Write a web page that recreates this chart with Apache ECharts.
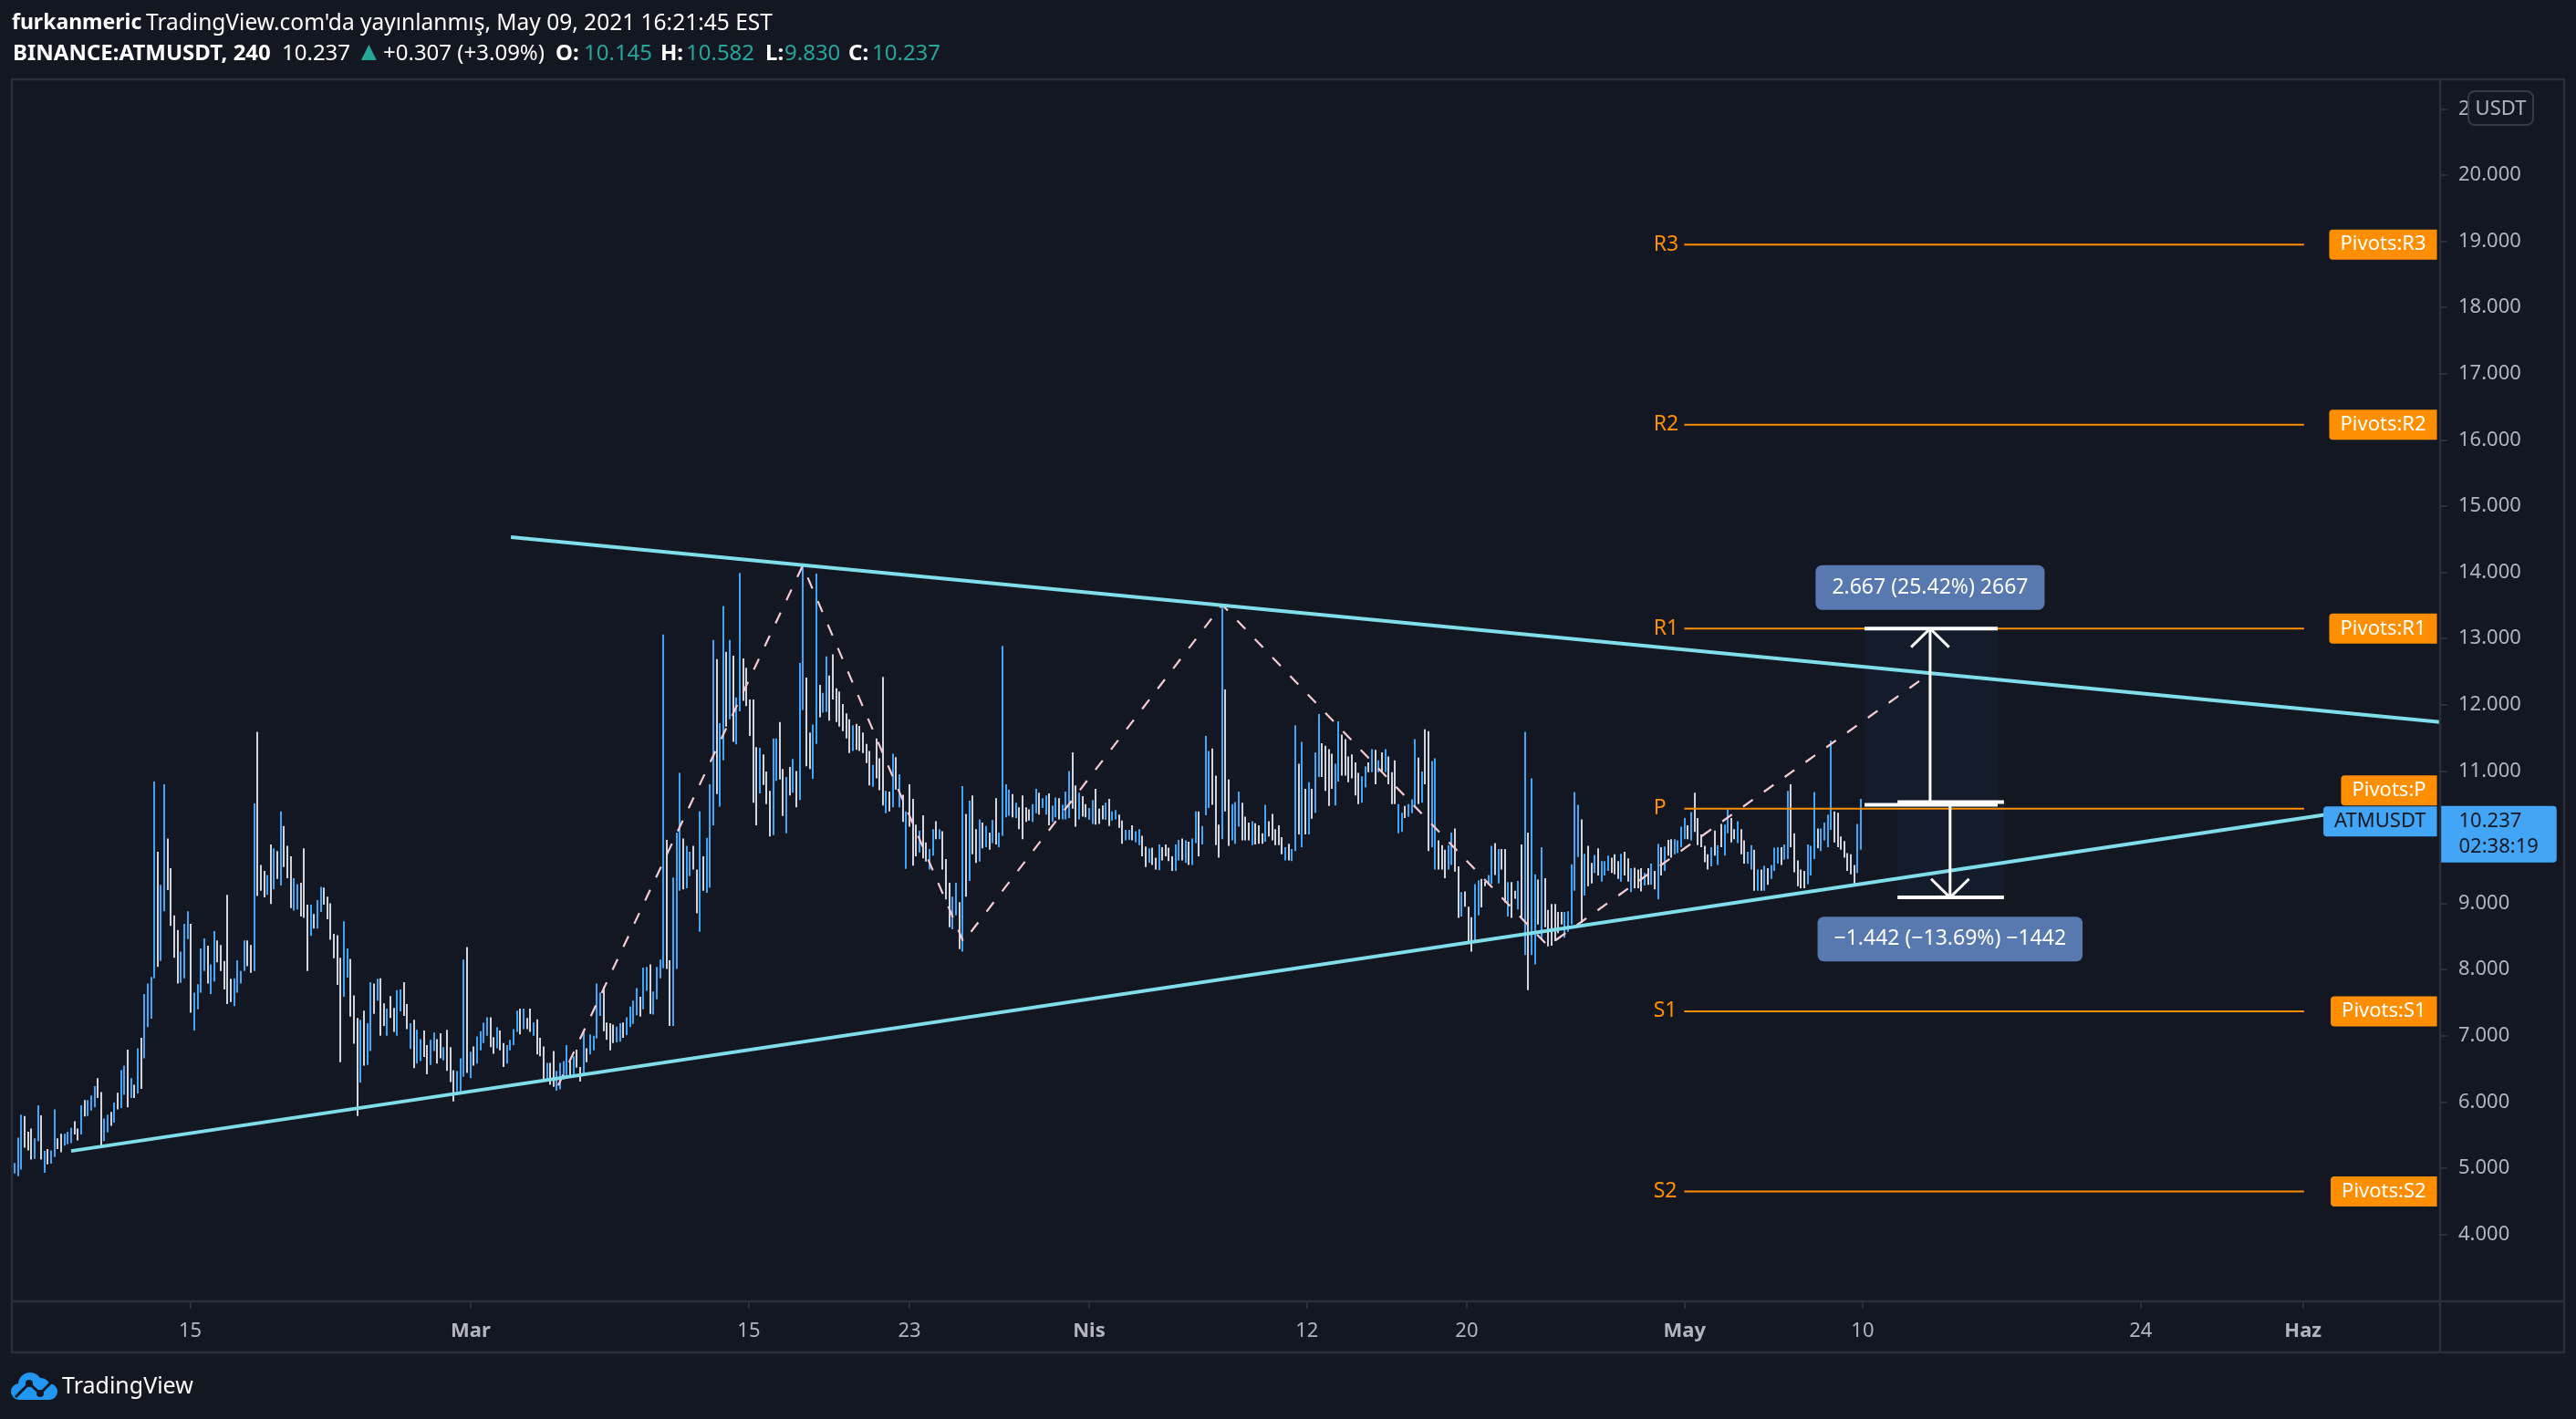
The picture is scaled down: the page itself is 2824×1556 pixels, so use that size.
<!DOCTYPE html>
<html>
<head>
<meta charset="utf-8">
<title>BINANCE:ATMUSDT, 240</title>
<style>
  html, body { margin: 0; padding: 0; background: #131722; }
  #main { width: 2824px; height: 1556px; }
</style>
<script src="https://cdn.jsdelivr.net/npm/echarts@6/dist/echarts.min.js"></script>
</head>
<body>
<div id="main"></div>
<script>
// bars are numbered 1..556, one per 4 hours
const highs = [
  5.08,5.46,5.81,5.79,5.55,5.60,5.45,5.95,5.80,5.26,5.29,5.27,5.89,5.45,5.52,5.52,5.55,5.61,5.71,5.60,
  5.95,6.03,6.03,6.10,6.24,6.36,6.15,5.75,5.81,5.85,5.99,6.14,6.48,6.55,6.79,6.36,6.26,6.81,6.97,7.63,
  7.79,7.89,10.84,9.78,9.28,10.80,9.98,9.53,8.82,8.60,8.27,8.69,8.88,8.69,7.65,7.78,8.32,8.47,8.36,8.08,
  8.58,8.44,8.37,8.13,9.13,7.86,7.87,8.14,7.98,8.44,8.44,8.37,10.51,11.59,9.58,9.49,9.43,9.89,9.83,9.79,
  10.39,10.17,9.87,9.71,9.38,9.29,9.31,9.83,8.98,8.98,8.84,9.05,9.25,9.24,9.10,9.00,8.54,8.52,8.18,8.73,
  8.32,8.16,7.61,7.27,7.24,7.38,7.19,7.81,7.79,7.86,7.87,7.49,7.41,7.60,7.42,7.69,7.70,7.81,7.48,7.19,
  7.24,7.09,6.95,7.08,6.86,6.94,7.05,6.95,7.04,6.83,7.09,6.83,6.48,6.47,6.66,8.15,8.34,6.76,6.84,6.99,
  7.07,7.20,7.28,7.28,6.98,7.13,7.08,6.89,6.86,6.94,7.10,7.38,7.41,7.41,7.27,7.41,7.20,7.25,6.97,6.84,
  6.59,6.59,6.77,6.47,6.59,6.62,6.86,6.61,6.69,6.79,6.53,7.08,6.81,7.02,7.00,7.79,7.65,7.74,7.20,7.19,
  7.17,7.14,7.19,7.20,7.28,7.44,7.53,7.72,7.59,8.03,8.04,8.08,7.67,8.04,8.15,13.06,9.96,8.14,9.39,10.07,
  10.97,9.98,9.87,9.78,9.87,9.51,10.39,9.71,9.99,10.80,12.98,12.69,11.72,13.49,12.80,12.98,12.74,12.11,13.99,12.70,
  12.56,12.08,12.08,11.36,11.35,11.25,10.99,10.70,11.49,11.49,11.74,11.03,10.91,11.06,11.18,11.00,12.63,14.12,12.41,11.58,
  11.70,13.98,12.30,12.18,12.73,12.44,12.76,12.25,12.20,12.01,11.87,11.78,11.69,11.71,11.68,11.58,11.41,11.30,11.09,11.49,
  11.19,12.42,10.70,10.69,11.26,11.21,10.95,10.64,10.39,10.80,10.58,10.19,10.10,10.33,9.92,9.82,10.12,10.24,10.12,10.09,
  9.67,9.31,9.10,9.31,9.02,10.77,10.35,10.55,10.63,10.12,10.27,10.22,10.17,10.07,10.26,10.59,10.07,12.89,10.80,10.72,
  10.65,10.52,10.45,10.63,10.45,10.42,10.50,10.73,10.67,10.59,10.63,10.66,10.48,10.60,10.59,10.49,10.69,11.00,11.28,10.78,
  10.67,10.62,10.50,10.44,10.56,10.73,10.43,10.48,10.52,10.58,10.39,10.41,10.34,10.25,10.11,10.11,10.18,10.09,10.12,10.02,
  9.86,9.83,9.84,9.69,9.89,9.85,9.89,9.84,9.71,9.89,9.96,9.98,9.95,9.93,9.98,10.39,10.39,10.17,11.53,11.30,
  11.34,10.93,10.19,13.50,12.23,10.87,10.50,10.53,10.69,10.52,10.31,10.22,10.24,10.21,10.18,10.06,10.49,10.24,10.35,10.12,
  10.18,10.00,9.85,9.90,9.82,11.69,11.11,11.44,10.73,10.83,10.73,11.28,11.86,11.42,11.38,11.33,11.26,11.11,11.75,11.55,
  11.48,11.22,11.25,11.13,10.97,10.92,11.07,11.13,11.33,11.32,11.16,11.28,11.33,11.22,10.98,11.16,10.50,10.37,10.47,10.50,
  10.57,11.48,11.20,10.99,11.63,11.60,11.15,11.19,9.95,9.88,9.81,9.88,10.07,10.13,9.56,9.17,9.18,8.95,8.79,9.29,
  9.35,9.37,9.33,9.43,9.87,9.91,9.82,9.82,9.82,9.32,9.32,9.19,9.34,9.89,11.59,10.07,10.89,9.44,9.36,9.85,
  9.38,8.90,8.99,8.99,8.87,8.87,8.87,8.88,9.59,10.68,10.49,10.27,9.75,9.87,9.61,9.73,9.83,9.64,9.64,9.72,
  9.69,9.74,9.64,9.75,9.78,9.68,9.53,9.54,9.51,9.53,9.46,9.53,9.60,9.49,9.90,9.85,9.86,9.96,9.97,9.97,
  9.95,10.16,10.29,10.18,10.38,10.67,10.29,10.04,9.87,9.74,9.85,10.10,9.88,10.20,10.19,10.42,10.29,10.12,10.24,10.12,
  9.95,9.78,9.88,9.81,9.51,9.51,9.57,9.53,9.58,9.84,9.85,9.85,9.89,10.70,10.80,10.06,9.65,9.51,9.49,9.89,
  9.87,10.68,10.13,10.13,10.22,10.34,11.46,10.39,10.37,10.01,9.94,9.76,9.74,9.58,10.20,10.58
];
const lows = [
  4.92,4.88,4.98,5.31,5.27,5.13,5.14,5.41,5.13,4.93,5.06,5.07,5.17,5.29,5.24,5.34,5.36,5.38,5.51,5.42,
  5.51,5.78,5.79,5.87,5.92,6.06,5.34,5.41,5.54,5.64,5.69,5.89,5.91,6.11,5.92,6.06,6.06,6.13,6.20,6.66,
  7.13,7.26,7.87,8.04,8.13,8.88,9.20,8.66,8.18,7.79,7.80,7.87,8.46,7.35,7.08,7.40,7.65,7.98,7.79,7.63,
  7.82,8.11,7.98,7.70,7.48,7.51,7.45,7.65,7.79,7.98,8.05,7.95,7.98,9.11,9.19,9.09,9.13,8.99,9.21,9.37,
  9.27,9.55,9.38,8.93,8.89,8.91,8.80,8.78,7.98,8.51,8.62,8.62,8.87,8.98,8.76,8.45,8.17,7.77,6.60,7.59,
  7.88,7.29,6.88,5.79,6.29,6.55,6.56,6.77,7.33,7.53,7.00,7.15,7.00,7.27,7.06,7.00,7.37,7.30,7.10,6.80,
  6.51,6.58,6.62,6.68,6.42,6.56,6.77,6.58,6.66,6.63,6.47,6.30,6.01,6.16,6.16,6.38,6.44,6.36,6.55,6.58,
  6.78,6.89,7.00,6.83,6.73,6.81,6.78,6.53,6.58,6.78,6.86,7.06,7.02,7.10,7.10,7.06,7.00,6.72,6.69,6.34,
  6.34,6.26,6.23,6.17,6.19,6.34,6.36,6.39,6.42,6.52,6.31,6.39,6.60,6.72,6.78,6.96,7.30,7.07,6.94,6.78,
  6.89,6.90,6.91,6.97,7.01,7.13,7.18,7.31,7.29,7.40,7.68,7.33,7.32,7.55,7.87,8.02,8.01,7.15,7.15,8.01,
  9.19,9.21,9.23,9.41,9.51,8.85,8.57,9.19,9.16,9.24,10.18,10.65,10.46,11.16,11.67,11.78,11.44,11.40,11.90,12.06,
  11.98,11.53,10.52,10.18,10.66,10.79,10.50,10.01,10.03,10.85,10.87,10.32,10.06,10.63,10.67,10.45,10.56,11.92,11.07,11.03,
  10.88,11.41,11.81,11.88,11.89,11.76,12.08,11.74,11.67,11.60,11.49,11.27,11.30,11.32,11.30,11.27,11.12,10.78,10.76,10.89,
  10.71,10.48,10.36,10.39,10.45,10.72,10.45,10.23,9.52,10.16,9.57,9.71,9.77,9.68,9.63,9.51,9.72,9.97,9.97,9.51,
  9.06,8.64,8.61,8.82,8.31,8.27,9.10,9.34,9.74,9.61,9.63,9.83,9.85,9.81,9.91,9.89,9.85,10.02,10.30,10.32,
  10.30,10.29,10.12,9.97,10.23,10.25,10.23,10.36,10.34,10.44,10.34,10.18,10.23,10.30,10.27,10.27,10.27,10.29,10.43,10.16,
  10.27,10.31,10.30,10.26,10.20,10.19,10.20,10.27,10.26,10.17,10.25,10.27,10.14,9.90,9.95,9.96,9.95,9.92,9.88,9.71,
  9.55,9.61,9.58,9.51,9.50,9.65,9.71,9.64,9.49,9.49,9.65,9.65,9.61,9.58,9.58,9.91,9.71,9.89,10.33,10.44,
  10.49,9.88,9.69,9.97,10.39,9.87,9.95,9.90,10.16,9.95,9.95,9.95,9.88,9.89,9.90,9.90,9.93,10.01,9.95,9.88,
  9.88,9.74,9.65,9.65,9.64,9.79,10.04,9.85,10.04,10.04,10.28,10.37,10.91,10.91,10.70,10.47,10.73,10.48,10.84,10.93,
  10.93,10.83,10.89,10.63,10.50,10.52,10.75,10.98,10.98,10.80,10.98,10.98,10.98,10.80,10.50,10.50,10.06,10.08,10.29,10.31,
  10.36,10.45,10.50,10.52,10.80,9.79,9.85,9.51,9.51,9.51,9.38,9.51,9.58,9.48,8.78,8.80,8.95,8.43,8.27,8.41,
  8.82,8.94,9.26,9.28,9.29,9.43,9.30,9.51,9.01,8.80,8.78,9.07,8.91,8.78,8.22,7.69,8.22,8.08,8.68,8.45,
  8.64,8.35,8.36,8.43,8.55,8.68,8.48,8.57,8.68,9.19,9.70,8.71,9.12,9.26,9.30,9.46,9.42,9.33,9.42,9.49,
  9.46,9.44,9.37,9.33,9.42,9.33,9.17,9.23,9.23,9.18,9.27,9.28,9.28,9.21,9.06,9.42,9.49,9.72,9.69,9.74,
  9.76,9.85,9.97,9.97,9.95,10.08,9.88,9.85,9.62,9.51,9.56,9.72,9.58,9.85,9.72,10.06,9.92,9.97,9.91,9.74,
  9.60,9.60,9.51,9.19,9.19,9.19,9.19,9.28,9.37,9.49,9.60,9.58,9.66,9.67,9.85,9.47,9.26,9.23,9.23,9.29,
  9.42,9.67,9.83,9.79,9.95,9.85,10.11,9.92,9.85,9.81,9.69,9.49,9.44,9.30,9.46,9.81
];
// b = blue (rising) bar, w = grey (falling) bar
const barDirections = [
  'bbbwwwbbwb','wbbwwbbbww','bwbbbwwbbw','bwbbwbwbwb','bbbwbbwwww','bbbwbbbbwb','bwwwwwbbbb','wwbwwwbwbw',
  'bwwwbbwwwb','wbbwwwwwwb','bwwwbwbbwb','wwbwwbbwwb','wbbwwbbwwb','wwwbbbwbwb','bbbwwbwwbb','bbwbwwbwww',
  'bwwbbbbwbw','wbwbbbbwww','wbbwbbbbwb','bwbbbbwwbb','bwbbwwbwbb','bwbbwbwbbw','wwwwbwwwbb','wwbwbwbbww',
  'bbwbbwwwww','wwbwwwwwbw','wwbwbwbwbw','wwbwwbbwbw','wwbbwbwbww','bwbwbwbbbb','wbwwwwbbwb','bwbbwbbbww',
  'bwwbbwwwbw','bbwwbbwbbw','wbwwbwwwwb','bwbwbbwbbb','wwwbwwbbbw','wwbwwwbwww','wwbwbbwbwb','wbbwwwwbbw',
  'wwwwwbbwbw','bwbwwwbbwb','bbwbwwbbww','wbbwwbwwwb','bwwbbwbwwb','wwbwbwbbwb','wwwwwwbbbb','bwbwwbwbbb',
  'wwwbwwbwww','bwbwbwbwwb','bbbwbwwwww','bwbwbbwwbw','wbbwbwbwbb','bwbbwwwwwb','bbwbbbbwww','wwwwbb'
].join('');

const xTickBars = [53.8, 138.1, 221.7, 270, 324, 389.5, 437.5, 503, 556.5, 640.1, 688.9];
const xTickLabels = ['15', 'Mar', '15', '23', 'Nis', '12', '20', 'May', '10', '24', 'Haz'];
const yTicks = [4, 5, 6, 7, 8, 9, 10, 11, 12, 13, 14, 15, 16, 17, 18, 19, 20, 21];

const pivotNames = ['R3', 'R2', 'R1', 'P', 'S1', 'S2'];
const pivotPrices = [18.95, 16.23, 13.15, 10.43, 7.37, 4.65];

const trendUpper = [[150.2, 14.53], [730.1, 11.74]];
const trendLower = [[18, 5.26], [695.8, 10.34]];
const zigzag = [[164.4, 6.25], [237.9, 14.1], [286.2, 8.42], [364, 13.51], [461.9, 8.36], [577, 12.48]];

const lastPrice = 10.237;

const BG = '#131722';
const LINE = '#2a2e39';
const BLUE = '#42a5f5';
const GREY = '#d1d4dc';
const ORANGE = '#ff8f00';
const CYAN = '#80deea';
const TEAL = '#26a69a';
const TAG_BLUE = '#5879af';
const FONT = '"Noto Sans", sans-serif';

// header pieces: left edge, top, text, bold, colour, size
const header = [
  [13, 14, 'furkanmeric', true, '#fff', 23],
  [160, 14, "TradingView.com'da yayınlanmış, May 09, 2021 16:21:45 EST", false, '#fff', 24.5],
  [14, 47, 'BINANCE:ATMUSDT, 240', true, '#fff', 24],
  [309, 47, '10.237', false, '#fff', 24],
  [390, 43, '▲', false, TEAL, 29],
  [420, 47, '+0.307 (+3.09%)', false, '#fff', 24],
  [609, 47, 'O:', true, '#fff', 24],
  [640, 47, '10.145', false, TEAL, 24],
  [724, 47, 'H:', true, '#fff', 24],
  [752, 47, '10.582', false, TEAL, 24],
  [839, 47, 'L:', true, '#fff', 24],
  [860, 47, '9.830', false, TEAL, 24],
  [930, 47, 'C:', true, '#fff', 24],
  [956, 47, '10.237', false, TEAL, 24]
];

const bars = highs.map(function (h, i) {
  return [i + 1, lows[i], h];
});

// every bar is one solid 2px stroke from low to high, drawn crisp on whole pixels
function renderBar(params, api) {
  const i = api.value(0);
  const bottom = api.coord([i, api.value(1)]);
  const top = api.coord([i, api.value(2)]);
  return {
    type: 'rect',
    shape: { x: Math.round(bottom[0] - 1), y: top[1], width: 2, height: bottom[1] - top[1] },
    style: { fill: barDirections[params.dataIndex] === 'b' ? BLUE : GREY }
  };
}

function line(name, points, width, color, z, dash) {
  return {
    name: name, type: 'line', data: points, symbol: 'none', z: z, clip: false,
    silent: true, animation: false,
    lineStyle: { width: width, color: color, type: dash || 'solid', cap: 'butt' }
  };
}

function labels(name, items, labelOpt, z) {
  return {
    name: name, type: 'scatter', data: items, symbolSize: 1, z: z, clip: false,
    silent: true, animation: false,
    itemStyle: { color: 'transparent', opacity: 1 },
    label: Object.assign({ show: true, formatter: '{b}', fontFamily: FONT }, labelOpt)
  };
}

const series = [
  {
    name: 'ATMUSDT', type: 'custom', data: bars, z: 2, renderItem: renderBar,
    encode: { x: 0, y: [1, 2] }, progressive: 0, silent: true, animation: false
  },
  line('trend upper', trendUpper, 4, CYAN, 6),
  line('trend lower', trendLower, 4, CYAN, 6),
  line('zigzag', zigzag, 2.2, '#f6ccd2', 5, [13, 15])
];

pivotPrices.forEach(function (p, i) {
  series.push(line('pivot ' + pivotNames[i], [[502.9, p], [689.2, p]], 2, ORANGE, 4));
});
series.push(labels('pivot names', pivotNames.map(function (n, i) {
  return { name: n, value: [493.5, pivotPrices[i]] };
}), { position: 'right', distance: 0, color: ORANGE, fontSize: 23, padding: [10, 0, 0, 0] }, 4));
series.push(labels('pivot tags', pivotNames.map(function (n, i) {
  const item = { name: 'Pivots:' + n, value: [729.3, pivotPrices[i]] };
  // P sits on the symbol tag, so it is pushed up
  if (n === 'P') item.label = { offset: [0, -20] };
  return item;
}), {
  position: 'left', distance: 0, color: '#fff', fontSize: 22, backgroundColor: ORANGE,
  padding: [8, 12, 3, 12], borderRadius: [4, 0, 0, 4]
}, 20));

// measure tool, up and down from the same level
const measureUp = { left: 557.1, right: 597.1, arrow: 576.8, from: 10.49, to: 13.15 };
const measureDown = { left: 567, right: 599, arrow: 582.8, from: 10.53, to: 9.09 };
[measureUp, measureDown].forEach(function (m, k) {
  const dir = m.to > m.from ? 1 : -1;
  series.push({
    name: 'measure box ' + k, type: 'line', data: [], z: 3, silent: true,
    markArea: {
      silent: true, itemStyle: { color: 'rgba(30,80,140,0.1)' },
      data: [[{ coord: [m.left, m.from] }, { coord: [m.right, m.to] }]]
    }
  });
  series.push(line('measure from ' + k, [[m.left, m.from], [m.right, m.from]], 4, '#fff', 8));
  series.push(line('measure to ' + k, [[m.left, m.to], [m.right, m.to]], 4, '#fff', 8));
  series.push(line('measure shaft ' + k, [[m.arrow, m.from], [m.arrow, m.to]], 3, '#fff', 8));
  series.push(line('measure head ' + k, [
    [m.arrow - 5.7, m.to - dir * 0.28], [m.arrow, m.to], [m.arrow + 5.7, m.to - dir * 0.28]
  ], 3, '#fff', 8));
});
series.push(labels('measure up label', [{ name: '2.667 (25.42%) 2667', value: [576.8, 13.77] }], {
  position: 'inside', color: '#fff', fontSize: 23, backgroundColor: TAG_BLUE,
  padding: [15, 18, 11, 18], borderRadius: 7
}, 9));
series.push(labels('measure down label', [{ name: '\u22121.442 (\u221213.69%) \u22121442', value: [582.8, 8.46] }], {
  position: 'inside', color: '#fff', fontSize: 23, backgroundColor: TAG_BLUE,
  padding: [15, 18, 11, 18], borderRadius: 7
}, 9));

// last price tags
series.push(labels('symbol tag', [{ name: 'ATMUSDT', value: [729.3, lastPrice] }], {
  position: 'left', distance: 0, color: BG, fontSize: 22, backgroundColor: BLUE,
  padding: [8, 12, 3, 12], borderRadius: [4, 0, 0, 4]
}, 21));
series.push(labels('price tag', [{ name: 'last', value: [730.1, lastPrice] }], {
  position: 'right', distance: 0, offset: [0, 14],
  formatter: '{a|' + lastPrice.toFixed(3) + '}\n{b|02:38:19}',
  backgroundColor: BLUE, padding: [3, 20, 3, 20], borderRadius: [0, 4, 4, 0],
  rich: {
    a: { color: BG, fontSize: 22, lineHeight: 28, fontFamily: FONT },
    b: { color: BG, fontSize: 22, lineHeight: 28, fontFamily: FONT }
  }
}, 21));
series.push(line('price tick', [[730.1, lastPrice], [732.8, lastPrice]], 2, BG, 22));

const chart = echarts.init(document.getElementById('main'), null, { renderer: 'canvas' });
chart.setOption({
  backgroundColor: BG,
  animation: false,
  title: header.map(function (h) {
    return {
      left: h[0], top: h[1], padding: 0, text: h[2],
      textStyle: { color: h[4], fontSize: h[5], fontWeight: h[3] ? 'bold' : 'normal', fontFamily: FONT }
    };
  }),
  grid: { left: 13, top: 87, right: 149, bottom: 129, containLabel: false },
  xAxis: {
    type: 'value', min: 0.18, max: 730.1, position: 'bottom',
    splitLine: { show: false },
    axisLine: { show: false },
    axisTick: { show: true, length: 8, customValues: xTickBars, lineStyle: { color: LINE, width: 2 } },
    axisLabel: {
      customValues: xTickBars, margin: 22,
      formatter: function (v) {
        const t = xTickLabels[xTickBars.indexOf(v)];
        return /^\d/.test(t) ? '{d|' + t + '}' : '{m|' + t + '}';
      },
      rich: {
        d: { color: '#b2b5be', fontSize: 22, fontFamily: FONT },
        m: { color: '#b2b5be', fontSize: 22, fontWeight: 'bold', fontFamily: FONT }
      }
    }
  },
  yAxis: {
    type: 'value', position: 'right', min: 2.989, max: 21.446, scale: true,
    splitLine: { show: false },
    axisLine: { show: false },
    axisTick: { show: true, length: 8, customValues: yTicks, lineStyle: { color: LINE, width: 2 } },
    axisLabel: {
      customValues: yTicks, margin: 20, color: '#b2b5be', fontSize: 22, fontFamily: FONT,
      padding: [8, 0, 0, 0],
      formatter: function (v) { return v.toFixed(3); }
    }
  },
  series: series,
  graphic: [
    { type: 'rect', z: 30, shape: { x: 13, y: 87, width: 2798, height: 1396 }, style: { fill: 'none', stroke: LINE, lineWidth: 2.5 }, silent: true },
    { type: 'line', z: 30, shape: { x1: 13, y1: 1427, x2: 2811, y2: 1427 }, style: { stroke: LINE, lineWidth: 2.5 }, silent: true },
    { type: 'line', z: 30, shape: { x1: 2675, y1: 87, x2: 2675, y2: 1483 }, style: { stroke: LINE, lineWidth: 2.5 }, silent: true },
    { type: 'rect', z: 31, shape: { x: 2706, y: 100, width: 71, height: 37, r: 7 }, style: { fill: BG, stroke: '#363a45', lineWidth: 2 }, silent: true },
    { type: 'text', z: 32, x: 2741.5, y: 119.5, style: { text: 'USDT', fill: '#b2b5be', font: '22px ' + FONT, textAlign: 'center', textVerticalAlign: 'middle' }, silent: true },
    // TradingView logo, cloud from overlapping shapes
    { type: 'circle', z: 30, silent: true, shape: { cx: 33, cy: 1518, r: 13 }, style: { fill: '#2196f3' } },
    { type: 'circle', z: 30, silent: true, shape: { cx: 21, cy: 1526, r: 9 }, style: { fill: '#2196f3' } },
    { type: 'circle', z: 30, silent: true, shape: { cx: 45, cy: 1521, r: 10 }, style: { fill: '#2196f3' } },
    { type: 'circle', z: 30, silent: true, shape: { cx: 54, cy: 1526, r: 9 }, style: { fill: '#2196f3' } },
    { type: 'rect', z: 30, silent: true, shape: { x: 21, y: 1522, width: 33, height: 13 }, style: { fill: '#2196f3' } },
    { type: 'polyline', z: 31, silent: true, shape: { points: [[17, 1532], [32, 1517], [44, 1528], [57, 1515]] }, style: { fill: 'none', stroke: BG, lineWidth: 3 } },
    { type: 'circle', z: 32, silent: true, shape: { cx: 32, cy: 1517, r: 4 }, style: { fill: BG } },
    { type: 'circle', z: 32, silent: true, shape: { cx: 44, cy: 1528, r: 4 }, style: { fill: BG } },
    { type: 'text', z: 32, silent: true, x: 68, y: 1521, style: { text: 'TradingView', fill: '#fff', font: '25px ' + FONT, textVerticalAlign: 'middle' } }
  ]
});
</script>
</body>
</html>
